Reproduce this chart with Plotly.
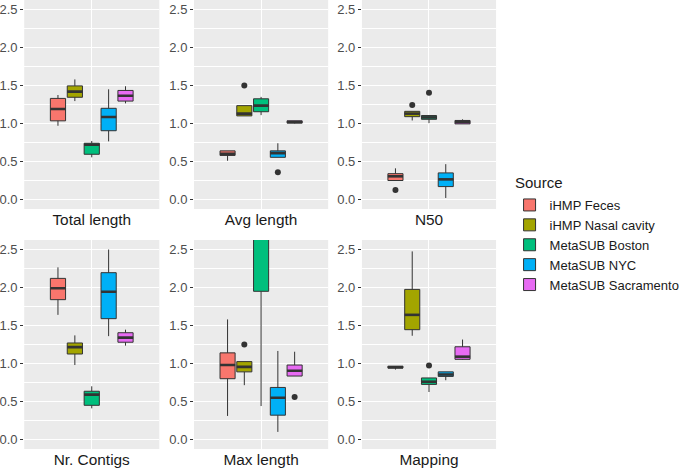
import plotly.graph_objects as go

sources = ["iHMP Feces", "iHMP Nasal cavity", "MetaSUB Boston", "MetaSUB NYC", "MetaSUB Sacramento"]
colors = ["#F8766D", "#A3A500", "#00BF7D", "#00B0F6", "#E76BF3"]
metrics = ["Total length", "Avg length", "N50", "Nr. Contigs", "Max length", "Mapping"]

# per metric, per source: [lower whisker, q1, median, q3, upper whisker]
total_length = [[0.97, 1.035, 1.19, 1.33, 1.375], [1.295, 1.345, 1.42, 1.495, 1.58],
                [0.555, 0.595, 0.72, 0.74, 0.77], [0.765, 0.905, 1.085, 1.20, 1.45],
                [1.265, 1.295, 1.365, 1.435, 1.49]]
avg_length = [[0.51, 0.58, 0.60, 0.64, 0.64], [1.10, 1.10, 1.13, 1.235, 1.235],
              [1.11, 1.155, 1.235, 1.325, 1.35], [0.555, 0.555, 0.61, 0.64, 0.74],
              [1.00, 1.005, 1.02, 1.035, 1.035]]
n50 = [[0.25, 0.25, 0.305, 0.34, 0.41], [1.04, 1.09, 1.13, 1.16, 1.16],
       [1.005, 1.055, 1.08, 1.105, 1.105], [0.02, 0.17, 0.265, 0.35, 0.465],
       [0.995, 0.995, 1.02, 1.04, 1.055]]
nr_contigs = [[1.64, 1.84, 1.99, 2.12, 2.265], [0.98, 1.125, 1.215, 1.27, 1.37],
              [0.41, 0.45, 0.59, 0.635, 0.70], [1.36, 1.59, 1.945, 2.195, 2.50],
              [1.235, 1.28, 1.34, 1.405, 1.445]]
max_length = [[0.31, 0.80, 0.98, 1.14, 1.58], [0.715, 0.89, 0.955, 1.025, 1.025],
              [0.44, 1.95, 2.9, 3.6, 4.5], [0.10, 0.32, 0.55, 0.685, 1.165],
              [0.835, 0.835, 0.905, 0.98, 1.155]]
mapping = [[0.92, 0.94, 0.95, 0.965, 0.965], [1.365, 1.445, 1.64, 1.975, 2.475],
           [0.625, 0.725, 0.76, 0.81, 0.81], [0.78, 0.83, 0.855, 0.89, 0.89],
           [1.05, 1.055, 1.09, 1.22, 1.315]]
stats = [total_length, avg_length, n50, nr_contigs, max_length, mapping]

# outliers per metric: (source index, value)
outliers = [[], [(1, 1.50), (3, 0.36)], [(0, 0.125), (1, 1.245), (2, 1.405)],
            [], [(1, 1.25), (4, 0.56)], [(2, 0.975)]]

y_ticks = [0.0, 0.5, 1.0, 1.5, 2.0, 2.5]
y_ticktext = ["0.0", "0.5", "1.0", "1.5", "2.0", "2.5"]

W, H = 685, 469
col_px = [(23, 163), (199, 338), (373, 512)]
row_px = [(0, 209), (240, 449)]
FONT = "Liberation Sans, Arial, sans-serif"

fig = go.Figure()
dodge = 0.15
bw = 0.135
layout = {}
for m, name in enumerate(metrics):
    r, c = divmod(m, 3)
    ax = "" if m == 0 else str(m + 1)
    xref, yref = "x" + ax, "y" + ax
    for s in range(5):
        lo, q1, med, q3, hi = stats[m][s]
        pos = 1 + (s - 2) * dodge
        fig.add_trace(go.Box(
            x=[pos], q1=[q1], median=[med], q3=[q3], lowerfence=[lo], upperfence=[hi],
            width=bw, fillcolor=colors[s], line=dict(color="#333333", width=1),
            boxpoints=False, name=sources[s], legendgroup=sources[s],
            showlegend=(m == 0), xaxis=xref, yaxis=yref, whiskerwidth=0))
        fig.add_trace(go.Scatter(
            x=[pos - bw / 2, pos + bw / 2], y=[med, med], mode="lines",
            line=dict(color="#333333", width=2.6), showlegend=False,
            hoverinfo="skip", xaxis=xref, yaxis=yref))
    if outliers[m]:
        fig.add_trace(go.Scatter(
            x=[1 + (s - 2) * dodge for s, v in outliers[m]],
            y=[v for s, v in outliers[m]], mode="markers",
            marker=dict(color="#333333", size=6), showlegend=False,
            xaxis=xref, yaxis=yref))
    x0, x1 = col_px[c]
    y0, y1 = row_px[r]
    layout["xaxis" + ax] = dict(
        domain=[x0 / W, x1 / W], range=[0.4, 1.6], anchor=yref,
        tickvals=[1], ticktext=[name], showgrid=True, gridcolor="white", gridwidth=1.1,
        ticks="", zeroline=False, showline=False,
        tickfont=dict(family=FONT, size=15.4, color="#1A1A1A"))
    layout["yaxis" + ax] = dict(
        domain=[1 - y1 / H, 1 - y0 / H], range=[-0.125, 2.625], anchor=xref,
        tickvals=y_ticks, ticktext=y_ticktext, showgrid=True, gridcolor="white", gridwidth=1.1,
        minor=dict(showgrid=True, tick0=0.25, dtick=0.5, gridcolor="white", gridwidth=0.5, ticks=""),
        ticks="outside", ticklen=3, tickcolor="#333333", tickwidth=1,
        zeroline=False, showline=False,
        tickfont=dict(family=FONT, size=13, color="#4D4D4D"))

fig.update_layout(**layout)
fig.update_layout(
    width=W, height=H, margin=dict(l=0, r=0, t=0, b=0),
    paper_bgcolor="white", plot_bgcolor="#EBEBEB", boxmode="overlay",
    font=dict(family=FONT, color="#1A1A1A"),
    legend=dict(
        x=526 / W, y=1 - 190 / H, xanchor="left", yanchor="top",
        font=dict(size=13), bgcolor="rgba(0,0,0,0)", tracegroupgap=0, itemwidth=30),
    annotations=[dict(text="Source", x=530 / W, y=1 - 183 / H, xref="paper", yref="paper",
                      xanchor="left", yanchor="middle", showarrow=False,
                      font=dict(family=FONT, size=15, color="#1A1A1A"))],
)
fig.write_html("out.html", config={"displayModeBar": False},
               post_script="document.body.style.margin='0';document.body.style.overflow='hidden';")
